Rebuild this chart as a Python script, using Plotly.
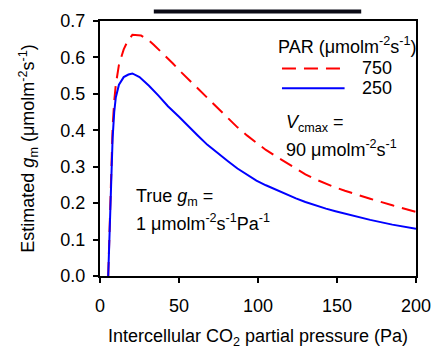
import plotly.graph_objects as go

# Data
x_750 = [5.2, 6, 7, 8, 9, 10, 12, 13.5, 15, 17.5, 20.5, 26, 30, 34, 40, 46, 52, 56, 62, 68, 74, 80, 87, 93, 99, 105, 111.5, 118, 124, 130, 136, 143, 149, 155, 163, 171, 185, 200]
y_750 = [0.0, 0.13, 0.30, 0.41, 0.48, 0.525, 0.58, 0.60, 0.622, 0.645, 0.662, 0.660, 0.650, 0.635, 0.610, 0.584, 0.557, 0.540, 0.513, 0.487, 0.462, 0.435, 0.408, 0.386, 0.365, 0.346, 0.328, 0.310, 0.294, 0.279, 0.266, 0.253, 0.243, 0.234, 0.222, 0.212, 0.194, 0.176]

x_250 = [5.2, 6, 7, 8, 9, 10, 12, 15, 18, 20.5, 25, 31, 37, 43, 50, 56, 62, 68, 75, 81, 87, 93, 99, 105, 111.5, 118, 124, 130, 136, 143, 149, 160, 171, 185, 200]
y_250 = [0.0, 0.12, 0.28, 0.38, 0.45, 0.49, 0.525, 0.546, 0.553, 0.556, 0.546, 0.522, 0.495, 0.466, 0.437, 0.410, 0.385, 0.360, 0.335, 0.315, 0.295, 0.278, 0.262, 0.249, 0.236, 0.224, 0.213, 0.203, 0.194, 0.185, 0.178, 0.165, 0.154, 0.141, 0.130]

series_names = ["750", "250"]
series_colors = ["#ff0000", "#0000ff"]
series_dash = ["14px,8px", "solid"]
x_ticks = [0, 50, 100, 150, 200]
y_ticks = [0.0, 0.1, 0.2, 0.3, 0.4, 0.5, 0.6, 0.7]
y_ticklabels = ["0.0", "0.1", "0.2", "0.3", "0.4", "0.5", "0.6", "0.7"]

FONT = "Liberation Sans, Arial, sans-serif"
FS = 18

fig = go.Figure()
for xs, ys, nm, col, ds in zip([x_750, x_250], [y_750, y_250], series_names, series_colors, series_dash):
    fig.add_trace(go.Scatter(x=xs, y=ys, mode="lines", name=nm, showlegend=False,
                             line=dict(color=col, width=2, dash=ds)))

axis_common = dict(showline=True, linecolor="black", linewidth=2, mirror=True,
                   ticks="outside", ticklen=5, tickwidth=2, tickcolor="black",
                   showgrid=False, zeroline=False,
                   tickfont=dict(family=FONT, size=FS, color="black"))

fig.update_xaxes(range=[0, 200], tickvals=x_ticks, ticklabelstandoff=7, **axis_common,
                 title=dict(text="Intercellular CO<sub>2</sub> partial pressure (Pa)",
                            font=dict(family=FONT, size=FS, color="black"), standoff=15))
fig.update_yaxes(range=[0, 0.7], tickvals=y_ticks, ticktext=y_ticklabels, ticklabelstandoff=4,
                 **axis_common,
                 title=dict(text="Estimated <i>g</i><sub>m</sub> (μmolm<sup>-2</sup>s<sup>-1</sup>)",
                            font=dict(family=FONT, size=FS, color="black"), standoff=21))

W, H = 442, 354
L, R, T, B = 100, 19, 11, 74
fig.update_layout(
    width=W, height=H,
    margin=dict(l=L, r=R, t=T, b=B),
    paper_bgcolor="white", plot_bgcolor="white",
    font=dict(family=FONT, size=FS, color="black"),
    showlegend=False,
)

pw, ph = W - L - R, H - T - B
def px(x):
    return (x - L) / pw
def py(y):
    return (H - B - y) / ph

# Legend (drawn manually so the line samples match the reference length)
fig.add_annotation(text="PAR (μmolm<sup>-2</sup>s<sup>-1</sup>)", x=px(280), y=py(37),
                   xref="paper", yref="paper", xanchor="left", yanchor="middle",
                   showarrow=False, font=dict(family=FONT, size=FS, color="black"))
for i, (nm, col, ds) in enumerate(zip(series_names, series_colors, series_dash)):
    yy = py(61 + 21 * i)
    fig.add_shape(type="line", xref="paper", yref="paper", x0=px(286), x1=px(350), y0=yy, y1=yy,
                  line=dict(color=col, width=2, dash=ds))
    fig.add_annotation(text=nm, x=px(366), y=yy, xref="paper", yref="paper",
                       xanchor="left", yanchor="middle", showarrow=False,
                       font=dict(family=FONT, size=FS, color="black"))

ann = [
    ("<i>V</i><sub>cmax</sub> =", 288, 119),
    ("90 μmolm<sup>-2</sup>s<sup>-1</sup>", 288, 145),
    ("True <i>g</i><sub>m</sub> =", 135, 197),
    ("1 μmolm<sup>-2</sup>s<sup>-1</sup>Pa<sup>-1</sup>", 135, 224),
]
for t, ax_, ay_ in ann:
    fig.add_annotation(text=t, x=px(ax_), y=py(ay_), xref="paper", yref="paper",
                       xanchor="left", yanchor="middle", showarrow=False,
                       font=dict(family=FONT, size=FS, color="black"))

# dark strip at the very top of the image
fig.add_shape(type="rect", xref="paper", yref="paper", x0=px(155), x1=px(367), y0=py(3), y1=py(-1),
              fillcolor="#0b0b16", line=dict(width=0), layer="above")

fig.write_html("out.html")
